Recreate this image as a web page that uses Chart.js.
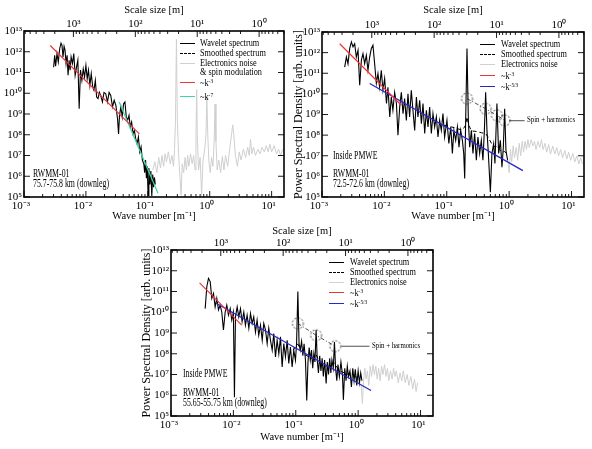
<!DOCTYPE html>
<html><head><meta charset="utf-8">
<script src="https://cdn.jsdelivr.net/npm/chart.js@4.4.1/dist/chart.umd.min.js"></script>
<style>
body{margin:0;background:#fff;width:592px;height:449px;overflow:hidden;position:relative;font-family:"Liberation Serif","Times New Roman",serif;color:#000;}
canvas{position:absolute;}
.t{position:absolute;white-space:nowrap;line-height:12px;height:12px;transform-origin:0 50%;}
.lg{font-size:9.5px;transform:scaleX(0.87);}
.an{font-size:11.5px;transform:scaleX(0.68);}
.sm{font-size:8px;transform:scaleX(0.85);}
.sw{position:absolute;width:15px;height:0;}
sup{font-size:65%;position:relative;top:-0.5em;vertical-align:baseline;line-height:0;}
</style></head><body>
<canvas id="c1" width="292" height="225" style="left:0;top:0"></canvas>
<canvas id="c2" width="300" height="225" style="left:292px;top:0"></canvas>
<canvas id="c3" width="310" height="224" style="left:140px;top:225px"></canvas>

<!-- Panel 1 legend -->
<div class="sw" style="left:180px;top:43px;border-top:1.3px solid #000"></div><div class="t lg" style="left:200px;top:37px">Wavelet spectrum</div>
<div class="sw" style="left:180px;top:53px;border-top:1.3px dashed #000"></div><div class="t lg" style="left:200px;top:47px">Smoothed spectrum</div>
<div class="sw" style="left:180px;top:63px;border-top:1.3px solid #d0d0d0"></div><div class="t lg" style="left:200px;top:57px">Electronics noise</div>
<div class="t lg" style="left:200px;top:66px">&amp; spin modulation</div>
<div class="sw" style="left:180px;top:82px;border-top:1.3px solid #e8383d"></div><div class="t lg" style="left:200px;top:77px">~k<sup>-3</sup></div>
<div class="sw" style="left:180px;top:96px;border-top:1.3px solid #3cd6a8"></div><div class="t lg" style="left:200px;top:91px">~k<sup>-7</sup></div>
<div class="t an" style="left:33px;top:167px">RWMM-01</div>
<div class="t an" style="left:33px;top:177px">75.7-75.8 km (downleg)</div>

<!-- Panel 2 legend -->
<div class="sw" style="left:480px;top:44px;border-top:1.3px solid #000"></div><div class="t lg" style="left:501px;top:38px">Wavelet spectrum</div>
<div class="sw" style="left:480px;top:54px;border-top:1.3px dashed #000"></div><div class="t lg" style="left:501px;top:48px">Smoothed spectrum</div>
<div class="sw" style="left:480px;top:64px;border-top:1.3px solid #d0d0d0"></div><div class="t lg" style="left:501px;top:58px">Electronics noise</div>
<div class="sw" style="left:480px;top:75px;border-top:1.3px solid #e8383d"></div><div class="t lg" style="left:501px;top:70px">~k<sup>-3</sup></div>
<div class="sw" style="left:480px;top:86px;border-top:1.3px solid #2828c8"></div><div class="t lg" style="left:501px;top:81px">~k<sup>-5/3</sup></div>
<div class="t an" style="left:333px;top:149px">Inside PMWE</div>
<div class="t an" style="left:333px;top:167px">RWMM-01</div>
<div class="t an" style="left:333px;top:177px">72.5-72.6 km (downleg)</div>
<div class="t sm" style="left:527px;top:114px">Spin + harmonics</div>

<!-- Panel 3 legend -->
<div class="sw" style="left:329px;top:262px;border-top:1.3px solid #000"></div><div class="t lg" style="left:350px;top:256px">Wavelet spectrum</div>
<div class="sw" style="left:329px;top:272px;border-top:1.3px dashed #000"></div><div class="t lg" style="left:350px;top:266px">Smoothed spectrum</div>
<div class="sw" style="left:329px;top:282px;border-top:1.3px solid #d0d0d0"></div><div class="t lg" style="left:350px;top:276px">Electronics noise</div>
<div class="sw" style="left:329px;top:292px;border-top:1.3px solid #e8383d"></div><div class="t lg" style="left:350px;top:287px">~k<sup>-3</sup></div>
<div class="sw" style="left:329px;top:303px;border-top:1.3px solid #2828c8"></div><div class="t lg" style="left:350px;top:298px">~k<sup>-5/3</sup></div>
<div class="t an" style="left:183px;top:367px">Inside PMWE</div>
<div class="t an" style="left:183px;top:386px">RWMM-01</div>
<div class="t an" style="left:183px;top:396px">55.65-55.75 km (downleg)</div>
<div class="t sm" style="left:372px;top:340px">Spin + harmonics</div>

<script>
// ---------------- axis ranges and tick labels ----------------
const K_MIN = 1e-3, K_MAX = 15.85;         // wave number [1/m]
const P_MIN = 1e5, P_MAX = 1e13;           // PSD [arb. units]
const xTickValues = [1e-3, 1e-2, 1e-1, 1, 10];
const xTickLabels = ['10⁻³', '10⁻²', '10⁻¹', '10⁰', '10¹'];
const topTickValues = [1000, 100, 10, 1];   // scale size [m] = 2π/k
const topTickLabels = ['10³', '10²', '10¹', '10⁰'];
const yTickValues = [1e5, 1e6, 1e7, 1e8, 1e9, 1e10, 1e11, 1e12, 1e13];
const yTickLabels = ['10⁵', '10⁶', '10⁷', '10⁸', '10⁹', '10¹⁰', '10¹¹', '10¹²', '10¹³'];

// ---------------- Panel 1: 75.7-75.8 km ----------------
const p1Wavelet = [[0.00301,1.8e11],[0.00313,6.7e11],[0.00324,2.0e11],[0.00341,8.1e11],[0.00358,3.2e11],[0.00377,1.4e12],[0.00396,2.6e12],[0.00411,2.0e12],[0.00427,5.6e11],[0.00444,1.8e12],[0.00460,1.2e12],[0.00478,2.7e11],[0.00497,6.7e11],[0.00515,7.3e10],[0.00535,3.9e11],[0.00556,1.3e11],[0.00577,5.6e11],[0.00607,2.7e11],[0.00637,8.1e11],[0.00670,7.3e10],[0.00705,1.8e11],[0.00741,3.9e11],[0.00778,1.8e9],[0.00818,1.3e11],[0.00861,4.2e10],[0.00906,1.5e11],[0.00951,6.1e10],[0.0100,2.2e11],[0.0105,5.0e10],[0.0110,1.3e11],[0.0116,2.4e10],[0.0122,8.8e10],[0.0129,2.0e10],[0.0135,1.4e10],[0.0142,4.2e10],[0.0149,6.6e9],[0.0157,5.5e9],[0.0165,1.1e10],[0.0173,7.9e9],[0.0185,3.8e9],[0.0196,1.1e10],[0.0209,9.5e9],[0.0223,3.8e9],[0.0237,1.1e10],[0.0252,7.9e9],[0.0269,2.2e9],[0.0286,4.6e9],[0.0305,2.6e9],[0.0324,6.0e8],[0.0337,1.1e8],[0.0349,8.6e8],[0.0367,2.2e9],[0.0386,7.2e8],[0.0406,3.1e9],[0.0427,3.8e9],[0.0449,7.2e8],[0.0472,5.0e8],[0.0497,8.6e8],[0.0521,2.4e8],[0.0548,4.1e8],[0.0577,1.1e8],[0.0607,1.6e8],[0.0637,6.5e7],[0.0670,3.7e7],[0.0705,7.8e7],[0.0741,1.5e7],[0.0778,2.6e7],[0.0818,5.8e6],[0.0861,4.0e6],[0.089,1.5e6],[0.092,6e6],[0.095,8e5],[0.098,3e6],[0.101,1.2e5],[0.104,2.5e6],[0.108,4e5],[0.112,1.8e6],[0.116,1.1e5],[0.120,1.2e6],[0.124,3e5],[0.128,9e5],[0.132,4e5]];
const p1Noise = [[0.12,2e6],[0.13,5e6],[0.14,1.5e6],[0.15,8e6],[0.16,2.5e6],[0.17,1e7],[0.18,3e6],[0.19,1.2e7],[0.20,5e6],[0.215,1.5e7],[0.23,4e6],[0.245,1e7],[0.26,3e6],[0.27,2e7],[0.28,5e8],[0.29,4e12],[0.30,5e8],[0.315,1e7],[0.33,1e6],[0.345,1.2e5],[0.36,4e6],[0.38,1.5e6],[0.40,8e6],[0.42,2e6],[0.44,1e7],[0.46,3e6],[0.49,1.2e7],[0.52,4e6],[0.55,1e7],[0.58,2e6],[0.60,1e8],[0.616,1.5e10],[0.63,1e8],[0.66,2e6],[0.70,8e6],[0.74,1.2e5],[0.78,6e6],[0.83,2e7],[0.87,1e8],[0.898,7e9],[0.93,1e8],[0.97,5e6],[1.02,1.5e6],[1.07,8e6],[1.13,3e6],[1.18,5e7],[1.22,3e9],[1.26,5e7],[1.32,2e6],[1.4,6e6],[1.5,1.5e6],[1.6,9e6],[1.7,2e6],[1.8,1e7],[1.95,3e6],[2.1,2e7],[2.25,1e8],[2.35,3e8],[2.45,1e8],[2.6,1e7],[2.8,3e6],[3.0,1.5e7],[3.2,6e6],[3.5,2e7],[3.8,8e6],[4.1,2.5e7],[4.35,1e7],[4.56,6e7],[4.8,1.2e7],[5.1,2.5e7],[5.5,1e7],[6.0,2e7],[6.5,1.2e7],[7.0,2.5e7],[7.6,1.5e7],[8.2,3e7],[8.8,1.5e7],[9.4,3.5e7],[10,1.5e7],[11,3e7],[12,1.2e7],[13,2e7],[14,1e7],[15,2e7]];
const p1FitK3 = [[0.00265,2.0e12],[0.0731,1.1e8]];
const p1FitK7 = [[0.0345,3.8e9],[0.146,1.5e5]];

// ---------------- Panel 2: 72.5-72.6 km ----------------
const p2Wavelet = [[0.00231,2.0e11],[0.00246,6.1e11],[0.00261,2.9e11],[0.00278,1.6e12],[0.00296,3.3e12],[0.00314,1.9e12],[0.00334,2.7e12],[0.00355,6.1e11],[0.00378,1.3e12],[0.00402,2.6e10],[0.00428,4.3e11],[0.00454,8.9e11],[0.00483,2.9e11],[0.00514,7.4e11],[0.00546,1.4e11],[0.00581,6.1e11],[0.00618,1.6e12],[0.00656,2.3e12],[0.00698,2.9e11],[0.00743,3.2e10],[0.00789,9.6e10],[0.00839,2.1e10],[0.00893,1.4e11],[0.00948,1.5e10],[0.0101,5.5e10],[0.0108,3.4e9],[0.0114,2.1e10],[0.0122,7.6e8],[0.0129,7.1e9],[0.0137,1.6e9],[0.0146,1.2e10],[0.0156,3.4e9],[0.0165,9.8e7],[0.0176,2.3e9],[0.0187,1.2e10],[0.0199,1.1e9],[0.0211,5.9e9],[0.0225,5.2e8],[0.0239,1.0e10],[0.0254,7.6e8],[0.0270,1.5e10],[0.0287,1.6e9],[0.0306,1.7e8],[0.0326,7.1e9],[0.0345,7.6e8],[0.0368,4.9e9],[0.0392,3.6e8],[0.0416,3.4e9],[0.0443,1.2e8],[0.0471,1.6e9],[0.0500,2.5e8],[0.0532,2.3e9],[0.0566,1.2e8],[0.0601,1.1e9],[0.0640,2.5e8],[0.0681,7.6e8],[0.0723,8.1e7],[0.0769,5.2e8],[0.0818,1.7e8],[0.0869,1.1e9],[0.0924,8.1e7],[0.1007,5.2e8],[0.108,3.9e7],[0.116,2.5e8],[0.123,1.3e7],[0.130,1.7e8],[0.139,5.6e7],[0.148,2.5e8],[0.157,2.6e7],[0.167,1.7e8],[0.178,5.6e7],[0.187,1.3e7],[0.194,7.8e5],[0.201,5.2e8],[0.211,1.6e12],[0.222,5.2e8],[0.233,2.6e7],[0.248,1.7e8],[0.263,1.3e7],[0.280,1.2e8],[0.298,6.0e6],[0.316,8.1e7],[0.337,1.3e7],[0.358,5.6e7],[0.380,6.0e6],[0.401,1.7e8],[0.420,1.2e10],[0.441,1.7e8],[0.464,1.3e7],[0.500,1.7e5],[0.530,1.3e7],[0.565,3.9e7],[0.592,4.2e6],[0.637,3.4e9],[0.679,1.3e7],[0.723,5.6e7],[0.767,2.8e6],[0.807,2.6e7],[0.847,1.9e9],[0.889,1.8e7],[0.946,6.0e6]];
const p2Smoothed = [[0.09,3e8],[0.12,2.5e8],[0.15,2e8],[0.18,1.8e8],[0.20,3e8],[0.211,7.6e8],[0.225,3e8],[0.25,1.6e8],[0.30,1.5e8],[0.36,1.3e8],[0.42,1.2e8],[0.46,8e7],[0.52,4e7],[0.6,2.5e7],[0.64,3e7],[0.7,2e7],[0.78,1.5e7],[0.85,1.6e7],[0.95,1.1e7]];
const p2Noise = [[0.95,6e6],[1.0,1.5e6],[1.05,2e7],[1.1,5e6],[1.16,3e7],[1.22,8e6],[1.3,2.5e7],[1.37,6e6],[1.45,4e7],[1.53,1e7],[1.62,5e7],[1.7,1.5e7],[1.8,5e7],[1.9,2e7],[2.0,6e7],[2.1,2.5e7],[2.25,6e7],[2.4,3e7],[2.55,5e7],[2.7,2e7],[2.9,5e7],[3.1,2.5e7],[3.3,6e7],[3.5,2e7],[3.75,4e7],[4.0,1.5e7],[4.3,3.5e7],[4.6,1.2e7],[5.0,3e7],[5.4,1.2e7],[5.8,2.5e7],[6.2,1e7],[6.7,2e7],[7.2,8e6],[7.8,1.8e7],[8.4,7e6],[9.0,1.5e7],[9.7,6e6],[10.5,1.3e7],[11.3,5e6],[12.2,1e7],[13.1,4e6],[14.0,8e6],[15.0,4e6]];
const p2FitK3 = [[0.00192,2.7e12],[0.0187,2.8e9]];
const p2FitK53 = [[0.00581,3.2e10],[1.66,1.9e6]];
const p2SpinPeaks = [[0.211,5.9e9],[0.42,1.9e9],[0.637,9.1e8],[0.847,5.2e8]];
const p2SpinPointer = [[1.0,5e8],[1.77,5e8]];

// ---------------- Panel 3: 55.65-55.75 km ----------------
const p3Wavelet = [[0.00353,1.5e10],[0.00375,1.7e11],[0.00399,4.3e11],[0.00425,3.0e11],[0.00451,4.7e10],[0.00480,8.1e10],[0.00510,1.8e10],[0.00542,4.7e10],[0.00577,1.3e10],[0.00614,2.2e10],[0.00652,1.0e10],[0.00693,1.4e9],[0.00738,1.0e10],[0.00784,2.2e10],[0.00834,7.3e9],[0.00889,1.5e10],[0.00942,4.2e9],[0.0100,1.0e10],[0.0104,8.1e5],[0.0108,6.0e9],[0.0115,1.8e10],[0.0122,6.0e9],[0.0130,1.5e10],[0.0138,3.5e9],[0.0147,1.0e10],[0.0156,2.4e9],[0.0166,7.3e9],[0.0177,1.7e9],[0.0188,8.7e9],[0.0200,2.9e9],[0.0212,6.0e9],[0.0226,1.1e9],[0.0240,4.2e9],[0.0255,7.8e8],[0.0272,2.4e9],[0.0290,4.5e8],[0.0307,2.9e9],[0.0327,1.4e9],[0.0348,3.1e8],[0.0369,1.7e9],[0.0393,4.5e8],[0.0419,1.5e8],[0.0444,9.5e8],[0.0473,7.0e7],[0.0503,4.5e8],[0.0535,1.0e8],[0.0569,6.5e8],[0.0605,2.3e7],[0.0643,3.1e8],[0.0684,7.0e7],[0.0728,4.5e8],[0.0773,3.4e7],[0.0822,2.1e8],[0.0875,2.3e7],[0.0929,1.5e8],[0.0989,4.9e7],[0.103,3e8],[0.108,1e11],[0.113,3e8],[0.118,1.5e8],[0.124,4e8],[0.130,8e7],[0.136,3e8],[0.143,5e7],[0.150,5.6e5],[0.157,4e7],[0.164,2e8],[0.171,5e7],[0.179,1.5e8],[0.187,2e7],[0.195,1e8],[0.203,4e7],[0.212,1.4e9],[0.221,5e7],[0.231,1.2e7],[0.242,8e7],[0.253,1.5e7],[0.265,6e7],[0.277,8e6],[0.29,5e7],[0.307,3.7e6],[0.32,4e7],[0.335,1e7],[0.35,6e7],[0.365,1.2e7],[0.38,5e7],[0.40,2e7],[0.417,3.7e8],[0.435,2e7],[0.455,5e6],[0.475,3e7],[0.50,8e6],[0.53,4e7],[0.56,1e7],[0.58,6e5],[0.61,2e7],[0.64,5e6],[0.67,2.5e7],[0.70,8e6],[0.74,1.5e7],[0.78,2.5e6],[0.82,2e7],[0.86,5e6],[0.9,1.8e7],[0.95,3e6],[1.0,1.5e7],[1.05,4e6],[1.1,1.2e7],[1.15,5e6]];
const p3Smoothed = [[0.09,1.5e8],[0.1,2e8],[0.108,3e8],[0.118,1.5e8],[0.14,9e7],[0.18,6e7],[0.212,9e7],[0.24,4e7],[0.3,2.5e7],[0.417,3.5e7],[0.5,1.5e7],[0.7,1e7],[1.0,7e6]];
const p3Noise = [[1.12,3e6],[1.17,4e5],[1.22,5e6],[1.28,2e7],[1.34,6e6],[1.41,1.5e7],[1.48,3e6],[1.56,2.5e7],[1.64,8e6],[1.73,3e7],[1.82,1e7],[1.92,2.5e7],[2.02,6e6],[2.13,2e7],[2.25,5e6],[2.38,2.5e7],[2.5,1e7],[2.65,3e7],[2.8,8e6],[2.95,2e7],[3.1,5e6],[3.3,1.5e7],[3.5,6e6],[3.7,2e7],[3.9,8e6],[4.1,1.5e7],[4.4,4e6],[4.7,1.2e7],[5.0,5e6],[5.3,1.5e7],[5.7,4e6],[6.1,1e7],[6.5,3e6],[7.0,8e6],[7.5,2e6],[8.0,6e6],[8.5,1.5e6],[9.0,4e6]];
const p3FitK3 = [[0.00287,2.6e11],[0.0136,2.4e9]];
const p3FitK53 = [[0.0053,2.7e10],[1.61,1.7e6]];
const p3SpinPeaks = [[0.108,2.9e9],[0.212,7.8e8],[0.43,2.3e8]];
const p3SpinPointer = [[0.54,2.3e8],[1.52,2.3e8]];

// ---------------- styling helpers ----------------
const FONT = '"Liberation Serif", "Times New Roman", serif';
const C_BLACK = '#000', C_GRAY = '#cfcfcf', C_RED = '#e8383d', C_GREEN = '#3cd6a8', C_BLUE = '#2828c8';

function dashedCircle(r) {
  const c = document.createElement('canvas');
  c.width = c.height = 2 * r + 4;
  const g = c.getContext('2d');
  g.setLineDash([2, 1.6]);
  g.lineWidth = 0.8;
  g.strokeStyle = '#222';
  g.beginPath(); g.arc(r + 2, r + 2, r, 0, Math.PI * 2); g.stroke();
  return c;
}

function ds(pairs, style) {
  return Object.assign({
    data: pairs.map(([x, y]) => ({x, y})),
    xAxisID: 'x', yAxisID: 'y',
    pointRadius: 0, borderWidth: 1, tension: 0, fill: false
  }, style);
}

const frameTicks = {
  id: 'frameTicks',
  afterDatasetsDraw(chart) {
    const {ctx, chartArea: a, scales} = chart;
    const x = scales.x, x2 = scales.x2, y = scales.y;
    ctx.save();
    ctx.strokeStyle = '#000';
    ctx.lineWidth = 0.9;
    const seg = (x0, y0, x1, y1) => { ctx.beginPath(); ctx.moveTo(x0, y0); ctx.lineTo(x1, y1); ctx.stroke(); };
    for (let e = -3; e <= 1; e++) for (let m = 1; m <= 9; m++) {
      const v = m * Math.pow(10, e);
      if (v < x.min || v > x.max) continue;
      const px = x.getPixelForValue(v);
      seg(px, a.bottom, px, a.bottom - (m === 1 ? 6 : 3));
    }
    for (let e = -1; e <= 4; e++) for (let m = 1; m <= 9; m++) {
      const v = m * Math.pow(10, e);
      if (v < x2.min || v > x2.max) continue;
      const px = x2.getPixelForValue(v);
      seg(px, a.top, px, a.top + (m === 1 ? 6 : 3));
    }
    for (const v of yTickValues) {
      const py = y.getPixelForValue(v);
      seg(a.left, py, a.left + 6, py);
      seg(a.right, py, a.right - 6, py);
    }
    ctx.lineWidth = 1.6;
    ctx.strokeRect(a.left, a.top, a.right - a.left, a.bottom - a.top);
    ctx.restore();
  }
};

function makeChart(id, geo, datasets, showYTitle) {
  const tickFont = {family: FONT, size: 11};
  const grid = {display: false, drawTicks: false};
  new Chart(document.getElementById(id), {
    type: 'line',
    data: {datasets},
    options: {
      responsive: false, animation: false, events: [], devicePixelRatio: 1,
      layout: {padding: {left: 0, right: geo.right, top: 0, bottom: 0}},
      plugins: {legend: {display: false}, tooltip: {enabled: false}},
      scales: {
        x: {
          type: 'logarithmic', position: 'bottom', min: K_MIN, max: K_MAX,
          afterBuildTicks: s => { s.ticks = xTickValues.map(v => ({value: v})); },
          afterFit: s => { s.height = geo.bottom; },
          grid, border: {display: false},
          ticks: {autoSkip: false, maxRotation: 0, padding: 3, labelOffset: geo.labelShift, color: '#000', font: tickFont,
                  callback: v => { const i = xTickValues.indexOf(v); return i >= 0 ? xTickLabels[i] : ''; }},
          title: {display: true, text: 'Wave number [m⁻¹]', color: '#000', font: {family: FONT, size: 10.5}, padding: {top: 0, bottom: geo.titleBottomPad}}
        },
        x2: {
          type: 'logarithmic', position: 'top', reverse: true, min: 2 * Math.PI / K_MAX, max: 2 * Math.PI / K_MIN,
          afterBuildTicks: s => { s.ticks = topTickValues.map(v => ({value: v})); },
          afterFit: s => { s.height = geo.top; },
          grid, border: {display: false},
          ticks: {autoSkip: false, maxRotation: 0, padding: 0, color: '#000', font: tickFont,
                  callback: v => { const i = topTickValues.indexOf(v); return i >= 0 ? topTickLabels[i] : ''; }},
          title: {display: true, text: 'Scale size [m]', color: '#000', font: {family: FONT, size: 10.5}, padding: {top: geo.titleTopPad, bottom: 0}}
        },
        y: {
          type: 'logarithmic', position: 'left', min: P_MIN, max: P_MAX,
          afterBuildTicks: s => { s.ticks = yTickValues.map(v => ({value: v})); },
          afterFit: s => { s.width = geo.left; },
          grid, border: {display: false},
          ticks: {autoSkip: false, padding: 2, color: '#000', font: tickFont,
                  callback: v => { const i = yTickValues.indexOf(v); return i >= 0 ? yTickLabels[i] : ''; }},
          title: {display: showYTitle, text: 'Power Spectral Density [arb. units]', color: '#000', font: {family: FONT, size: 12}, padding: {top: 0, bottom: 0}}
        }
      }
    },
    plugins: [frameTicks]
  });
}

const circleImg = dashedCircle(5.5);

makeChart('c1', {left: 24, right: 8, top: 31, bottom: 28, titleTopPad: 4, titleBottomPad: 2, labelShift: -3}, [
  ds(p1FitK3, {borderColor: C_RED, borderWidth: 1.2, order: 0}),
  ds(p1FitK7, {borderColor: C_GREEN, borderWidth: 1.2, order: 0}),
  ds(p1Wavelet, {borderColor: C_BLACK, borderWidth: 1.1, order: 1}),
  ds(p1Noise, {borderColor: C_GRAY, borderWidth: 1, order: 3})
], false);

makeChart('c2', {left: 30, right: 8, top: 32, bottom: 28, titleTopPad: 4, titleBottomPad: 2, labelShift: -3}, [
  ds(p2FitK3, {borderColor: C_RED, borderWidth: 1.2, order: 0}),
  ds(p2FitK53, {borderColor: C_BLUE, borderWidth: 1.3, order: 0}),
  ds(p2SpinPeaks, {borderColor: '#222', borderWidth: 0.8, borderDash: [4, 2, 1, 2], pointStyle: circleImg, pointRadius: 6, order: 0}),
  ds(p2SpinPointer, {borderColor: '#222', borderWidth: 0.8, order: 0}),
  ds(p2Smoothed, {borderColor: C_BLACK, borderWidth: 1, borderDash: [4, 3], order: 0.5}),
  ds(p2Wavelet, {borderColor: C_BLACK, borderWidth: 1.1, order: 1}),
  ds(p2Noise, {borderColor: C_GRAY, borderWidth: 1, order: 3})
], true);

makeChart('c3', {left: 31, right: 17, top: 25, bottom: 33, titleTopPad: 0, titleBottomPad: 5, labelShift: -2}, [
  ds(p3FitK3, {borderColor: C_RED, borderWidth: 1.2, order: 0}),
  ds(p3FitK53, {borderColor: C_BLUE, borderWidth: 1.3, order: 0}),
  ds(p3SpinPeaks, {borderColor: '#222', borderWidth: 0.8, borderDash: [4, 2, 1, 2], pointStyle: circleImg, pointRadius: 6, order: 0}),
  ds(p3SpinPointer, {borderColor: '#222', borderWidth: 0.8, order: 0}),
  ds(p3Smoothed, {borderColor: C_BLACK, borderWidth: 1, borderDash: [4, 3], order: 0.5}),
  ds(p3Wavelet, {borderColor: C_BLACK, borderWidth: 1.1, order: 1}),
  ds(p3Noise, {borderColor: C_GRAY, borderWidth: 1, order: 3})
], true);
</script>
</body></html>
